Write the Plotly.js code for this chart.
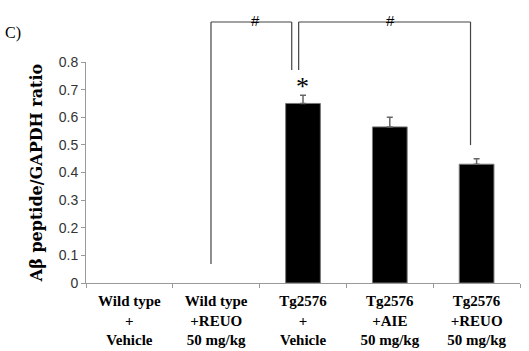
<!DOCTYPE html>
<html>
<head>
<meta charset="utf-8">
<script src="https://cdn.plot.ly/plotly-3.0.1.min.js"></script>
<style>html,body{margin:0;padding:0;background:#fff;}#chart{width:529px;height:351px;}</style>
</head>
<body>
<div id="chart"></div>
<script>
var categories = [
  "Wild type<br>+<br>Vehicle",
  "Wild type<br>+REUO<br>50 mg/kg",
  "Tg2576<br>+<br>Vehicle",
  "Tg2576<br>+AIE<br>50 mg/kg",
  "Tg2576<br>+REUO<br>50 mg/kg"
];
var ratioValues = [0, 0, 0.65, 0.565, 0.43];
var ratioErrors = [NaN, NaN, 0.03, 0.035, 0.02];
var ratioErrorsMinus = [NaN, NaN, 0, 0, 0];
var yTickValues = [0, 0.1, 0.2, 0.3, 0.4, 0.5, 0.6, 0.7, 0.8];
var yTickLabels = ["0", "0.1", "0.2", "0.3", "0.4", "0.5", "0.6", "0.7", "0.8"];

var serif = "'Liberation Serif', 'Times New Roman', serif";
var sans = "'Liberation Sans', Arial, sans-serif";

var trace = {
  type: "bar",
  x: categories,
  y: ratioValues,
  width: 0.4,
  marker: {color: "#000000", line: {color: "#777777", width: [0, 0, 1, 1, 1]}},
  error_y: {type: "data", symmetric: false, array: ratioErrors, arrayminus: ratioErrorsMinus,
            visible: true, color: "#666666", thickness: 1.5, width: 3},
  hoverinfo: "none"
};

var bracketColor = "#444444";
function seg(x0, y0, x1, y1) {
  return {type: "line", xref: "x", yref: "paper", x0: x0, y0: y0, x1: x1, y1: y1,
          line: {color: bracketColor, width: 1.2}};
}

var layout = {
  width: 529, height: 351,
  margin: {l: 86, r: 9, t: 62, b: 68},
  paper_bgcolor: "#ffffff", plot_bgcolor: "#ffffff",
  showlegend: false,
  xaxis: {
    type: "category",
    range: [-0.5, 4.5],
    showline: true, linecolor: "#999999", linewidth: 1,
    ticks: "outside", tickson: "boundaries", ticklen: 4, tickcolor: "#999999",
    ticklabelstandoff: 4,
    tickfont: {family: serif, size: 15, color: "#000000", weight: "bold"},
    showgrid: false, zeroline: false, fixedrange: true
  },
  yaxis: {
    range: [0, 0.8],
    tickmode: "array", tickvals: yTickValues, ticktext: yTickLabels,
    showline: true, linecolor: "#999999", linewidth: 1,
    ticks: "outside", ticklen: 4, tickcolor: "#999999",
    tickfont: {family: sans, size: 14, color: "#333333"},
    showgrid: false, zeroline: false, fixedrange: true,
    title: {text: "Aβ peptide/GAPDH ratio", font: {family: "'DejaVu Serif', serif", size: 16, color: "#000000", weight: "bold"}, standoff: 12}
  },
  shapes: [
    seg(0.94, 0.086, 0.94, 1.181),
    seg(0.94, 1.181, 1.87, 1.181),
    seg(1.87, 1.181, 1.87, 0.964),
    seg(1.95, 0.964, 1.95, 1.181),
    seg(1.95, 1.181, 3.93, 1.181),
    seg(3.93, 1.181, 3.93, 0.624)
  ],
  annotations: [
    {xref: "x", yref: "paper", x: 1.45, y: 1.235, text: "#", showarrow: false,
     font: {family: sans, size: 15, color: "#000000"}},
    {xref: "x", yref: "paper", x: 3.01, y: 1.235, text: "#", showarrow: false,
     font: {family: sans, size: 15, color: "#000000"}},
    {xref: "x", yref: "y", x: 1.99, y: 0.71, text: "*", showarrow: false,
     font: {family: serif, size: 26, color: "#000000"}},
    {xref: "paper", yref: "paper", x: -0.191, y: 1.181, xanchor: "left", text: "C)", showarrow: false,
     font: {family: serif, size: 16, color: "#000000"}}
  ]
};

Plotly.newPlot("chart", [trace], layout, {displayModeBar: false, staticPlot: true});
</script>
</body>
</html>
